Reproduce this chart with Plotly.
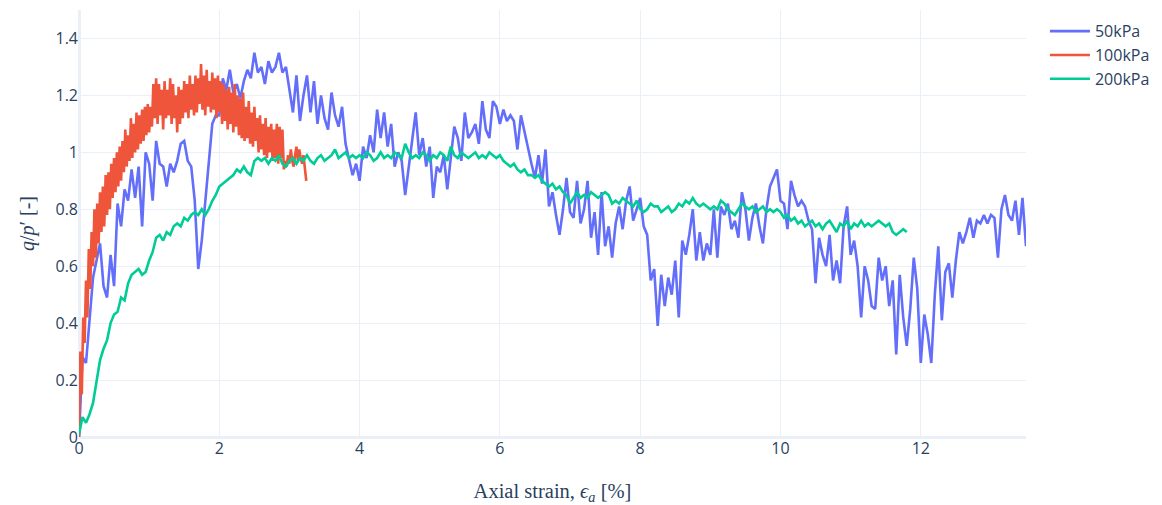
import plotly.graph_objects as go

# ---------------- data ----------------
series_names = ["50kPa", "100kPa", "200kPa"]
series_colors = ["#636efa", "#EF553B", "#00cc96"]

# strain increments (%) between successive readings of each test
step_50 = 0.05
step_100 = 0.02
step_200 = 0.05

q_p_50 = [
    0.00, 0.28, 0.26, 0.41, 0.56, 0.62, 0.68, 0.53, 0.49, 0.64,
    0.53, 0.82, 0.74, 0.87, 0.83, 0.94, 0.84, 0.95, 0.74, 1.00,
    0.96, 0.83, 1.04, 0.96, 0.95, 0.88, 0.96, 0.93, 0.97, 1.03,
    1.04, 0.97, 0.95, 0.83, 0.59, 0.69, 0.83, 0.95, 1.10, 1.13,
    1.13, 1.26, 1.22, 1.29, 1.21, 1.24, 1.19, 1.25, 1.29, 1.26,
    1.35, 1.28, 1.30, 1.24, 1.32, 1.28, 1.30, 1.35, 1.28, 1.30,
    1.22, 1.14, 1.27, 1.11, 1.20, 1.27, 1.14, 1.25, 1.10, 1.20,
    1.12, 1.08, 1.21, 1.13, 1.09, 1.16, 1.03, 0.98, 0.92, 0.96,
    0.90, 1.02, 0.98, 1.06, 1.00, 1.15, 1.05, 1.14, 1.02, 1.10,
    0.95, 1.00, 0.97, 0.85, 0.95, 1.04, 1.14, 0.99, 1.05, 0.95,
    1.02, 0.84, 0.95, 0.93, 0.99, 0.87, 0.97, 1.09, 1.05, 0.97,
    1.14, 1.05, 1.07, 1.10, 1.03, 1.18, 1.08, 1.05, 1.18, 1.16,
    1.10, 1.15, 1.11, 1.13, 1.11, 1.01, 1.13, 1.07, 1.02, 0.96,
    0.91, 0.99, 0.89, 1.01, 0.81, 0.86, 0.78, 0.71, 0.80, 0.91,
    0.79, 0.77, 0.90, 0.75, 0.80, 0.90, 0.70, 0.79, 0.64, 0.86,
    0.67, 0.74, 0.63, 0.75, 0.81, 0.73, 0.83, 0.88, 0.76, 0.80,
    0.84, 0.74, 0.71, 0.55, 0.59, 0.39, 0.57, 0.46, 0.56, 0.50,
    0.62, 0.42, 0.69, 0.64, 0.71, 0.80, 0.62, 0.72, 0.62, 0.68,
    0.64, 0.80, 0.63, 0.81, 0.78, 0.82, 0.73, 0.76, 0.70, 0.86,
    0.80, 0.69, 0.77, 0.82, 0.74, 0.68, 0.80, 0.88, 0.91, 0.94,
    0.83, 0.82, 0.73, 0.90, 0.85, 0.81, 0.83, 0.81, 0.76, 0.73,
    0.54, 0.70, 0.64, 0.60, 0.71, 0.55, 0.62, 0.54, 0.74, 0.81,
    0.64, 0.69, 0.60, 0.42, 0.60, 0.55, 0.46, 0.45, 0.63, 0.55,
    0.60, 0.46, 0.55, 0.29, 0.57, 0.42, 0.32, 0.45, 0.63, 0.52,
    0.26, 0.43, 0.36, 0.26, 0.50, 0.67, 0.41, 0.58, 0.61, 0.49,
    0.62, 0.72, 0.68, 0.72, 0.77, 0.70, 0.76, 0.75, 0.78, 0.75,
    0.78, 0.77, 0.63, 0.80, 0.85, 0.78, 0.76, 0.83, 0.71, 0.84,
    0.67,
]

q_p_100 = [
    0.00, 0.30, 0.15, 0.42, 0.33, 0.55, 0.42, 0.66, 0.52, 0.72,
    0.60, 0.80, 0.63, 0.82, 0.68, 0.86, 0.72, 0.88, 0.74, 0.92,
    0.78, 0.93, 0.80, 0.96, 0.84, 0.98, 0.86, 1.00, 0.88, 1.02,
    0.90, 1.04, 0.93, 1.08, 0.95, 1.06, 0.97, 1.12, 0.98, 1.10,
    1.00, 1.14, 1.01, 1.13, 1.03, 1.15, 1.04, 1.16, 1.06, 1.17,
    1.07, 1.16, 1.09, 1.24, 1.12, 1.26, 1.10, 1.24, 1.13, 1.22,
    1.08, 1.25, 1.12, 1.22, 1.13, 1.26, 1.10, 1.24, 1.12, 1.20,
    1.07, 1.23, 1.10, 1.22, 1.12, 1.25, 1.14, 1.24, 1.12, 1.27,
    1.15, 1.24, 1.13, 1.27, 1.14, 1.26, 1.17, 1.31, 1.15, 1.27,
    1.13, 1.29, 1.16, 1.25, 1.14, 1.28, 1.15, 1.26, 1.12, 1.27,
    1.14, 1.25, 1.10, 1.24, 1.11, 1.22, 1.08, 1.23, 1.10, 1.21,
    1.07, 1.24, 1.09, 1.20, 1.06, 1.19, 1.05, 1.21, 1.04, 1.16,
    1.05, 1.18, 1.03, 1.14, 1.02, 1.16, 1.04, 1.12, 1.00, 1.13,
    1.01, 1.10, 0.99, 1.12, 0.98, 1.09, 1.00, 1.10, 0.97, 1.08,
    0.98, 1.10, 0.96, 1.09, 0.98, 1.08, 0.94, 0.97, 0.95, 0.99,
    0.96, 1.01, 0.97, 0.95, 0.99, 1.02, 0.97, 1.01, 0.98, 0.96,
    0.99, 0.93, 0.90,
]

q_p_200 = [
    0.01, 0.07, 0.05, 0.08, 0.12, 0.20, 0.27, 0.31, 0.34, 0.40,
    0.43, 0.44, 0.49, 0.48, 0.54, 0.57, 0.58, 0.59, 0.57, 0.58,
    0.62, 0.65, 0.70, 0.71, 0.69, 0.72, 0.71, 0.74, 0.75, 0.74,
    0.77, 0.76, 0.78, 0.79, 0.78, 0.80, 0.78, 0.80, 0.83, 0.85,
    0.88, 0.89, 0.90, 0.91, 0.92, 0.94, 0.93, 0.95, 0.93, 0.92,
    0.97, 0.98, 0.97, 0.98, 0.96, 0.98, 0.97, 0.99, 0.96, 0.95,
    0.97, 0.98, 0.96, 0.98, 0.97, 0.99, 0.97, 0.96, 0.98, 0.99,
    0.97, 0.98, 0.99, 1.01, 0.98, 0.99, 1.00, 0.98, 0.99, 0.98,
    0.99, 0.98, 1.00, 0.99, 0.97, 0.98, 1.00, 0.98, 0.99, 0.98,
    1.00, 0.99, 0.98, 1.03, 1.00, 0.98, 0.99, 0.98, 1.00, 0.99,
    0.97, 0.99, 0.98, 1.00, 0.99, 0.97, 1.02, 0.99, 0.98, 1.00,
    0.99, 0.98, 0.99, 1.00, 0.98, 0.99, 0.98, 1.00, 0.99, 0.98,
    0.99, 0.97, 0.96, 0.95, 0.96, 0.94, 0.93, 0.94, 0.92, 0.92,
    0.91, 0.92, 0.90, 0.89, 0.88, 0.89, 0.87, 0.88, 0.86, 0.85,
    0.82, 0.84, 0.86, 0.84, 0.85, 0.84, 0.86, 0.85, 0.84, 0.85,
    0.86, 0.85, 0.82, 0.83, 0.82, 0.84, 0.83, 0.82, 0.81, 0.83,
    0.80, 0.79, 0.80, 0.82, 0.81, 0.81, 0.79, 0.80, 0.81, 0.79,
    0.80, 0.82, 0.81, 0.83, 0.82, 0.84, 0.82, 0.81, 0.82, 0.81,
    0.80, 0.81, 0.80, 0.83, 0.82, 0.80, 0.79, 0.78, 0.80, 0.82,
    0.81, 0.80, 0.81, 0.79, 0.80, 0.81, 0.79, 0.80, 0.79, 0.80,
    0.79, 0.77, 0.78, 0.76, 0.77, 0.75, 0.76, 0.74, 0.75, 0.76,
    0.74, 0.75, 0.73, 0.75, 0.76, 0.74, 0.72, 0.75, 0.74, 0.76,
    0.73, 0.75, 0.74, 0.76, 0.74, 0.75, 0.74, 0.75, 0.76, 0.75,
    0.74, 0.75, 0.72, 0.71, 0.72, 0.73, 0.72,
]

x_ticks = [0, 2, 4, 6, 8, 10, 12]
y_ticks = [0, 0.2, 0.4, 0.6, 0.8, 1.0, 1.2, 1.4]
y_tick_text = ["0", "0.2", "0.4", "0.6", "0.8", "1", "1.2", "1.4"]
x_range = [0, 13.5]
y_range = [0, 1.5]

# ---------------- figure ----------------
series = [(q_p_50, step_50), (q_p_100, step_100), (q_p_200, step_200)]

fig = go.Figure()
for name, color, (vals, step) in zip(series_names, series_colors, series):
    strain = [round(i * step, 4) for i in range(len(vals))]
    fig.add_trace(go.Scatter(
        x=strain, y=vals, mode="lines", name=name,
        line=dict(color=color, width=2.6),
    ))

fig.update_layout(
    template="plotly_white",
    width=1162, height=505,
    margin=dict(l=79, r=136, t=10, b=68, autoexpand=False),
    font=dict(family="Open Sans, verdana, arial, sans-serif", size=16, color="#2a3f5f"),
    legend=dict(font=dict(size=16), itemwidth=40, x=1.02, y=0.99, yanchor="top",
                tracegroupgap=0),
)
fig.update_xaxes(
    range=x_range, tickvals=x_ticks, automargin=False,
    title=dict(text="Axial strain, <i>ϵ<sub>a</sub></i> [%]", standoff=28,
               font=dict(family="Liberation Serif, DejaVu Serif, serif", size=20.5)),
    zerolinewidth=2.6,
)
fig.update_yaxes(
    range=y_range, tickvals=y_ticks, ticktext=y_tick_text, automargin=False,
    title=dict(text="<i>q</i>/<i>p</i>′ [-]",
               font=dict(family="Liberation Serif, DejaVu Serif, serif", size=20)),
    zerolinewidth=2.6,
)

fig.write_html("out.html", config={"displayModeBar": False},
               post_script="document.body.style.margin='0';")
